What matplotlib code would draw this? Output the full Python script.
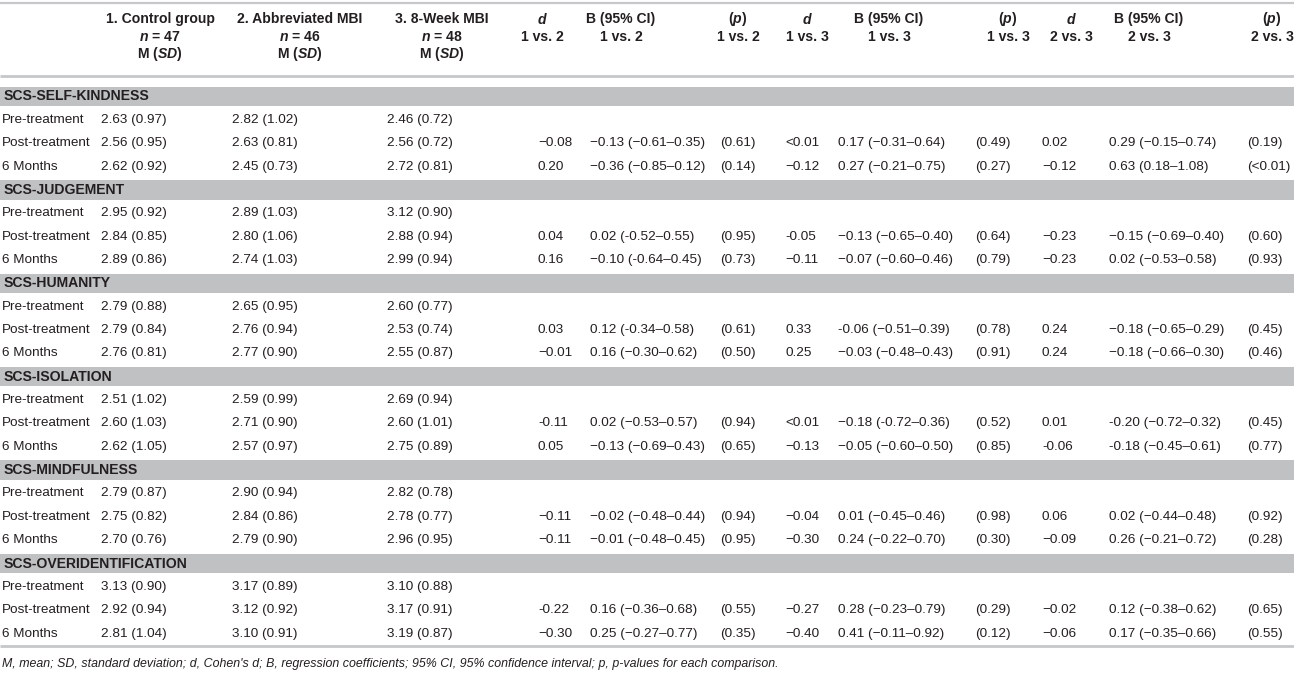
import matplotlib
matplotlib.use("Agg")
import matplotlib.pyplot as plt

plt.rcParams['font.family'] = ['Liberation Sans', 'DejaVu Sans']
plt.rcParams['mathtext.fontset'] = 'custom'
plt.rcParams['mathtext.rm'] = 'Liberation Sans:bold'
plt.rcParams['mathtext.bf'] = 'Liberation Sans:bold'
plt.rcParams['mathtext.it'] = 'Liberation Sans:italic:bold'

# ---------------- data ----------------
sections = ["SCS-SELF-KINDNESS", "SCS-JUDGEMENT", "SCS-HUMANITY",
            "SCS-ISOLATION", "SCS-MINDFULNESS", "SCS-OVERIDENTIFICATION"]
timepoints = ["Pre-treatment", "Post-treatment", "6 Months"]
group_names = ["1. Control group", "2. Abbreviated MBI", "3. 8-Week MBI"]
group_n = [47, 46, 48]
comparisons = ["1 vs. 2", "1 vs. 3", "2 vs. 3"]

control = ["2.63 (0.97)", "2.56 (0.95)", "2.62 (0.92)",
           "2.95 (0.92)", "2.84 (0.85)", "2.89 (0.86)",
           "2.79 (0.88)", "2.79 (0.84)", "2.76 (0.81)",
           "2.51 (1.02)", "2.60 (1.03)", "2.62 (1.05)",
           "2.79 (0.87)", "2.75 (0.82)", "2.70 (0.76)",
           "3.13 (0.90)", "2.92 (0.94)", "2.81 (1.04)"]
abbreviated = ["2.82 (1.02)", "2.63 (0.81)", "2.45 (0.73)",
               "2.89 (1.03)", "2.80 (1.06)", "2.74 (1.03)",
               "2.65 (0.95)", "2.76 (0.94)", "2.77 (0.90)",
               "2.59 (0.99)", "2.71 (0.90)", "2.57 (0.97)",
               "2.90 (0.94)", "2.84 (0.86)", "2.79 (0.90)",
               "3.17 (0.89)", "3.12 (0.92)", "3.10 (0.91)"]
eight_week = ["2.46 (0.72)", "2.56 (0.72)", "2.72 (0.81)",
              "3.12 (0.90)", "2.88 (0.94)", "2.99 (0.94)",
              "2.60 (0.77)", "2.53 (0.74)", "2.55 (0.87)",
              "2.69 (0.94)", "2.60 (1.01)", "2.75 (0.89)",
              "2.82 (0.78)", "2.78 (0.77)", "2.96 (0.95)",
              "3.10 (0.88)", "3.17 (0.91)", "3.19 (0.87)"]

d_12 = ["", "\u22120.08", "0.20",
        "", "0.04", "0.16",
        "", "0.03", "\u22120.01",
        "", "-0.11", "0.05",
        "", "\u22120.11", "\u22120.11",
        "", "-0.22", "\u22120.30"]
b_12 = ["", "\u22120.13 (\u22120.61\u20130.35)", "\u22120.36 (\u22120.85\u20130.12)",
        "", "0.02 (-0.52\u20130.55)", "\u22120.10 (-0.64\u20130.45)",
        "", "0.12 (-0.34\u20130.58)", "0.16 (\u22120.30\u20130.62)",
        "", "0.02 (\u22120.53\u20130.57)", "\u22120.13 (\u22120.69\u20130.43)",
        "", "\u22120.02 (\u22120.48\u20130.44)", "\u22120.01 (\u22120.48\u20130.45)",
        "", "0.16 (\u22120.36\u20130.68)", "0.25 (\u22120.27\u20130.77)"]
p_12 = ["", "(0.61)", "(0.14)",
        "", "(0.95)", "(0.73)",
        "", "(0.61)", "(0.50)",
        "", "(0.94)", "(0.65)",
        "", "(0.94)", "(0.95)",
        "", "(0.55)", "(0.35)"]
d_13 = ["", "<0.01", "\u22120.12",
        "", "-0.05", "\u22120.11",
        "", "0.33", "0.25",
        "", "<0.01", "\u22120.13",
        "", "\u22120.04", "\u22120.30",
        "", "\u22120.27", "\u22120.40"]
b_13 = ["", "0.17 (\u22120.31\u20130.64)", "0.27 (\u22120.21\u20130.75)",
        "", "\u22120.13 (\u22120.65\u20130.40)", "\u22120.07 (\u22120.60\u20130.46)",
        "", "-0.06 (\u22120.51\u20130.39)", "\u22120.03 (\u22120.48\u20130.43)",
        "", "\u22120.18 (-0.72\u20130.36)", "\u22120.05 (\u22120.60\u20130.50)",
        "", "0.01 (\u22120.45\u20130.46)", "0.24 (\u22120.22\u20130.70)",
        "", "0.28 (\u22120.23\u20130.79)", "0.41 (\u22120.11\u20130.92)"]
p_13 = ["", "(0.49)", "(0.27)",
        "", "(0.64)", "(0.79)",
        "", "(0.78)", "(0.91)",
        "", "(0.52)", "(0.85)",
        "", "(0.98)", "(0.30)",
        "", "(0.29)", "(0.12)"]
d_23 = ["", "0.02", "\u22120.12",
        "", "\u22120.23", "\u22120.23",
        "", "0.24", "0.24",
        "", "0.01", "-0.06",
        "", "0.06", "\u22120.09",
        "", "\u22120.02", "\u22120.06"]
b_23 = ["", "0.29 (\u22120.15\u20130.74)", "0.63 (0.18\u20131.08)",
        "", "\u22120.15 (\u22120.69\u20130.40)", "0.02 (\u22120.53\u20130.58)",
        "", "\u22120.18 (\u22120.65\u20130.29)", "\u22120.18 (\u22120.66\u20130.30)",
        "", "-0.20 (\u22120.72\u20130.32)", "-0.18 (\u22120.45\u20130.61)",
        "", "0.02 (\u22120.44\u20130.48)", "0.26 (\u22120.21\u20130.72)",
        "", "0.12 (\u22120.38\u20130.62)", "0.17 (\u22120.35\u20130.66)"]
p_23 = ["", "(0.19)", "(<0.01)",
        "", "(0.60)", "(0.93)",
        "", "(0.45)", "(0.46)",
        "", "(0.45)", "(0.77)",
        "", "(0.92)", "(0.28)",
        "", "(0.65)", "(0.55)"]

footnote = ("M, mean; SD, standard deviation; d, Cohen's d; B, regression coefficients; "
            "95% CI, 95% confidence interval; p, p-values for each comparison.")

# ---------------- layout ----------------
W, H = 1294, 678
fig = plt.figure(figsize=(W / 100, H / 100), dpi=100)
ax = fig.add_axes([0, 0, 1, 1])
ax.set_xlim(0, W)
ax.set_ylim(H, 0)
ax.axis('off')

TXT = '#231f20'
BAND = '#c0c1c3'
LINE = '#c6c7c9'
FS = 9.7
FSB = 10.1

value_cols = [control, abbreviated, eight_week, d_12, b_12, p_12,
              d_13, b_13, p_13, d_23, b_23, p_23]
value_left = [101, 232, 387, 538, 590, 720, 785, 838, 975, 1042, 1109, 1247]
head_center = [160, 300, 442, 542, 621, 738, 807, 889, 1008, 1071, 1149, 1272]

# header lines
ax.plot([0, W], [3, 3], color=LINE, lw=1.6, solid_capstyle='butt')
ax.plot([0, W], [76, 76], color=LINE, lw=2.0, solid_capstyle='butt')

hy = [19, 37, 54]
for i in range(3):
    x = head_center[i]
    ax.text(x, hy[0], group_names[i], ha='center', va='center', fontsize=FSB,
            fontweight='bold', color=TXT)
    ax.text(x, hy[1], r"$n$ = %d" % group_n[i], ha='center', va='center',
            fontsize=FSB, fontweight='bold', color=TXT)
    ax.text(x, hy[2], r"M ($SD$)", ha='center', va='center', fontsize=FSB,
            fontweight='bold', color=TXT)
for k in range(3):
    xd, xb, xp = head_center[3 + 3 * k], head_center[4 + 3 * k], head_center[5 + 3 * k]
    ax.text(xd, hy[0], r"$d$", ha='center', va='center', fontsize=FSB,
            fontweight='bold', color=TXT)
    ax.text(xb, hy[0], "B (95% CI)", ha='center', va='center', fontsize=FSB,
            fontweight='bold', color=TXT)
    ax.text(xp, hy[0], r"($p$)", ha='center', va='center', fontsize=FSB,
            fontweight='bold', color=TXT)
    for x in (xd, xb, xp):
        ax.text(x, hy[1], comparisons[k], ha='center', va='center', fontsize=FSB,
                fontweight='bold', color=TXT)

# body
y0 = 96.5
pitch = 23.35
band_h = 19.5
for s, name in enumerate(sections):
    yb = y0 + s * 4 * pitch
    ax.add_patch(plt.Rectangle((0, yb - band_h / 2), W, band_h, facecolor=BAND,
                               edgecolor='none'))
    ax.text(4, yb, name, ha='left', va='center', fontsize=FSB, fontweight='bold',
            color=TXT)
    for t, tp in enumerate(timepoints):
        yr = yb + (t + 1) * pitch
        r = s * 3 + t
        ax.text(2, yr, tp, ha='left', va='center', fontsize=FS, color=TXT)
        for col, xl in zip(value_cols, value_left):
            if col[r]:
                ax.text(xl, yr, col[r], ha='left', va='center', fontsize=FS,
                        color=TXT)

ylast = y0 + 23 * pitch
ax.plot([0, W], [ylast + 12, ylast + 12], color=LINE, lw=2.0, solid_capstyle='butt')
ax.text(2, ylast + 30, footnote, ha='left', va='center', fontsize=8.9,
        style='italic', color=TXT)

fig.savefig("out.png", dpi=100)
